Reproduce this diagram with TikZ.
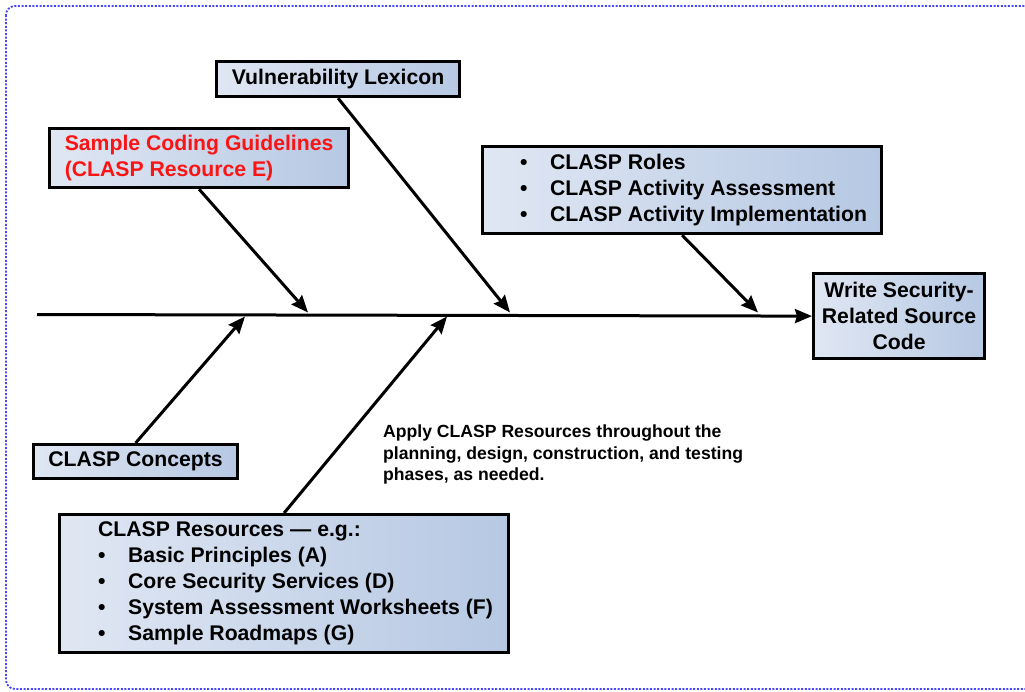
\documentclass[tikz,border=0pt]{standalone}
\usepackage{fontspec}
\setmainfont{Liberation Sans}
\usepackage{tikz}
\usetikzlibrary{ % tikz packages
    arrows.meta,shadows
}
\definecolor{boxleft}{RGB}{224,231,243}
\definecolor{boxright}{RGB}{182,200,227}
\definecolor{framecol}{RGB}{70,70,250}
\definecolor{guidered}{RGB}{250,20,20}
\tikzset{box/.style={
    draw=black, line width=3.2pt,
    left color=boxleft, right color=boxright,
    drop shadow={shadow xshift=1.2pt, shadow yshift=-1.2pt, opacity=.35},
    inner sep=0pt, anchor=north west,
    font=\bfseries\fontsize{21.2}{26}\selectfont
}}
\tikzset{bone/.style={
    line width=3pt,
    -{Stealth[length=17pt,width=14pt,inset=2pt]}
}}
\newcommand{\bul}{\makebox[30pt][l]{\textbullet}}

\begin{document}
\begin{tikzpicture}[x=1pt,y=-1pt]
        \useasboundingbox (0,0) rectangle (1025,691);
        \draw[framecol, line width=1.8pt, dash pattern=on 2pt off 1.6pt,
            rounded corners=9pt] (6,6) rectangle (1045,689);

        \node[box, minimum width=243, minimum height=35] (vuln) at (215,60)
            {Vulnerability Lexicon};
        \node[box, minimum width=299, minimum height=59, align=left,
            text=guidered] (guide) at (48,127)
            {Sample Coding Guidelines\\(CLASP Resource E)};
        \node[box, minimum width=399, minimum height=87, align=left] (roles) at (481,145)
            {\hspace*{23pt}\bul CLASP Roles\\
             \hspace*{23pt}\bul CLASP Activity Assessment\\
             \hspace*{23pt}\bul CLASP Activity Implementation};
        \node[box, minimum width=171, minimum height=85, align=center] (write) at (812,272)
            {Write Security-\\Related Source\\Code};
        \node[box, minimum width=204, minimum height=34] (concepts) at (32,443)
            {CLASP Concepts};
        \node[box, minimum width=449, minimum height=138, align=left] (resources) at (58,513)
            {\hspace*{23pt}CLASP Resources — e.g.:\\
             \hspace*{23pt}\bul Basic Principles (A)\\
             \hspace*{23pt}\bul Core Security Services (D)\\
             \hspace*{23pt}\bul System Assessment Worksheets (F)\\
             \hspace*{23pt}\bul Sample Roadmaps (G)};

        \node[anchor=north west, inner sep=0pt, align=left,
            font=\bfseries\fontsize{17.6}{21.5}\selectfont] (apply) at (383,425)
            {Apply CLASP Resources throughout the\\
             planning, design, construction, and testing\\
             phases, as needed.};

        % spine and its joints
        \coordinate (tail) at (37,314.5);
        \coordinate (jguide) at (308,312.5);
        \coordinate (jvuln) at (510,312.5);
        \coordinate (jroles) at (758,312.5);
        \coordinate (jconcepts) at (245,316.5);
        \coordinate (jresources) at (447,316.5);

        \draw[bone] (tail) -- (write.west);
        \draw[bone] (guide.south) -- (jguide);
        \draw[bone] (vuln.south) -- (jvuln);
        \draw[bone] (roles.south) -- (jroles);
        \draw[bone] (concepts.north) -- (jconcepts);
        \draw[bone] (resources.north) -- (jresources);
\end{tikzpicture}
\end{document}
